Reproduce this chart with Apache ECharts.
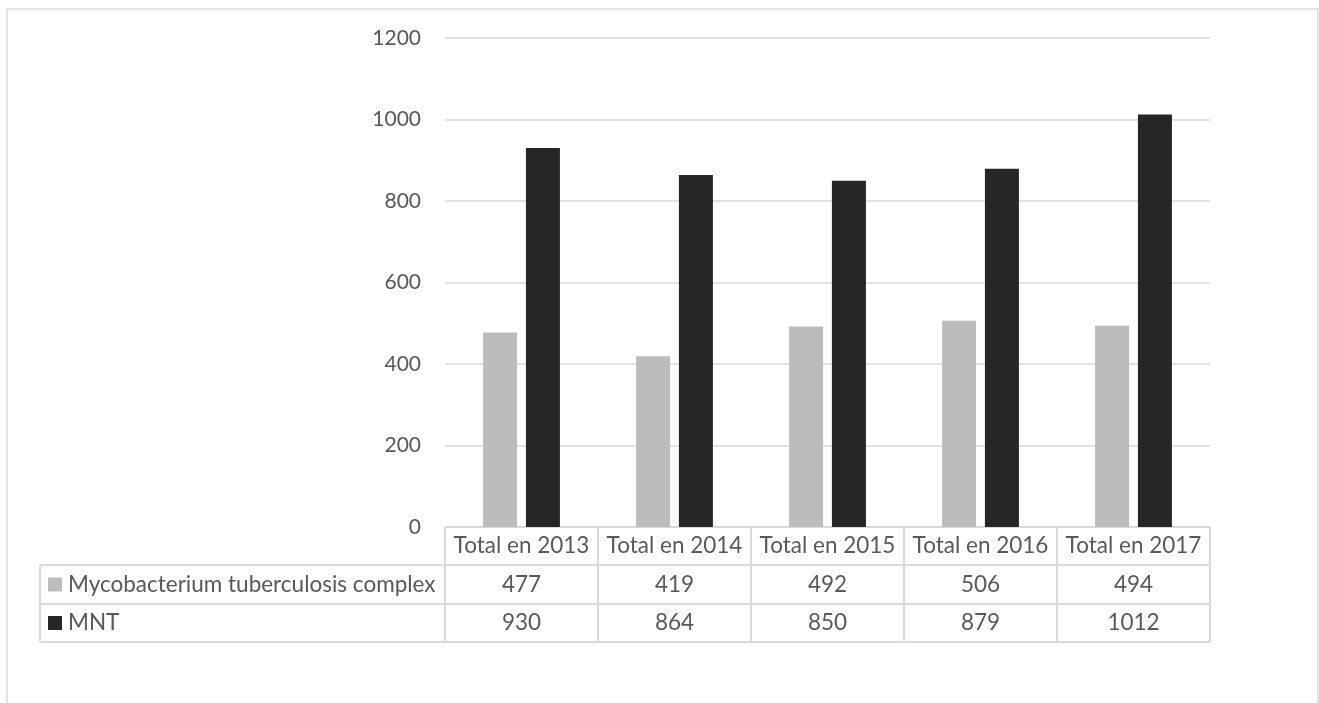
<!DOCTYPE html>
<html>
<head>
<meta charset="utf-8">
<script src="https://cdn.jsdelivr.net/npm/echarts@6/dist/echarts.min.js"></script>
<style>
html, body { margin: 0; padding: 0; background: #fff; }
#main { width: 1319px; height: 703px; }
</style>
</head>
<body>
<div id="main"></div>
<script>
var categories = ['Total en 2013', 'Total en 2014', 'Total en 2015', 'Total en 2016', 'Total en 2017'];
var seriesNames = ['Mycobacterium tuberculosis complex', 'MNT'];
var mtbValues = [477, 419, 492, 506, 494];
var mntValues = [930, 864, 850, 879, 1012];
var seriesColors = ['#bcbcbc', '#262626'];

var textColor = '#595959';
var lineColor = '#d9d9d9';
var fontFamily = 'Lato, "Liberation Sans", sans-serif';
var fontSize = 22.5;

var myChart = echarts.init(document.getElementById('main'));

var option = {
	animation : false,
	grid : {
		left : 445,
		right : 109,
		top : 38,
		bottom : 176
	},
	xAxis : {
		type : 'category',
		data : categories,
		axisLine : { show : false },
		axisTick : { show : false },
		axisLabel : { show : false }
	},
	yAxis : {
		type : 'value',
		min : 0,
		max : 1200,
		interval : 200,
		axisLabel : {
			color : textColor,
			fontSize : 21,
			fontFamily : fontFamily,
			margin : 24,
			formatter : function (v) { return String(v); }
		},
		splitLine : {
			lineStyle : { color : lineColor, width : 1.5 }
		}
	},
	series : [ {
		name : seriesNames[0],
		type : 'bar',
		data : mtbValues,
		barWidth : 34,
		barGap : '26%',
		itemStyle : { color : seriesColors[0] }
	}, {
		name : seriesNames[1],
		type : 'bar',
		data : mntValues,
		barWidth : 34,
		itemStyle : { color : seriesColors[1] }
	} ]
};
myChart.setOption(option);

// data table under the plot
function buildTable() {
	var g = [];
	var left = 445, right = 1210, tableLeft = 40;
	var colW = (right - left) / categories.length;
	var rowY = [527, 565, 604, 642];
	var lineStyle = { stroke : lineColor, lineWidth : 2 };
	var font = fontSize + 'px ' + fontFamily;

	// outer frame
	g.push({ type : 'rect', shape : { x : 7, y : 9, width : 1311, height : 710 },
		style : { fill : null, stroke : '#dcdcdc', lineWidth : 1.5 }, silent : true });

	// horizontal lines
	g.push({ type : 'line', shape : { x1 : left, y1 : rowY[0], x2 : right, y2 : rowY[0] }, style : lineStyle });
	for (var r = 1; r < rowY.length; r++) {
		g.push({ type : 'line', shape : { x1 : tableLeft, y1 : rowY[r], x2 : right, y2 : rowY[r] }, style : lineStyle });
	}
	// vertical lines
	g.push({ type : 'line', shape : { x1 : tableLeft, y1 : rowY[1], x2 : tableLeft, y2 : rowY[3] }, style : lineStyle });
	for (var c = 0; c <= categories.length; c++) {
		var x = left + c * colW;
		g.push({ type : 'line', shape : { x1 : x, y1 : rowY[0], x2 : x, y2 : rowY[3] }, style : lineStyle });
	}

	var rows = [categories, mtbValues, mntValues];
	for (var i = 0; i < categories.length; i++) {
		var cx = myChart.convertToPixel({ xAxisIndex : 0 }, i);
		for (var k = 0; k < rows.length; k++) {
			g.push({ type : 'text', x : cx, y : (rowY[k] + rowY[k + 1]) / 2,
				style : { text : String(rows[k][i]), fill : textColor, font : font,
					align : 'center', verticalAlign : 'middle' } });
		}
	}

	// legend keys + names in the first column
	for (var s = 0; s < seriesNames.length; s++) {
		var cy = (rowY[s + 1] + rowY[s + 2]) / 2;
		g.push({ type : 'rect', shape : { x : 48, y : cy - 7, width : 14, height : 14 },
			style : { fill : seriesColors[s] } });
		g.push({ type : 'text', x : 68, y : cy,
			style : { text : seriesNames[s], fill : textColor, font : font,
				align : 'left', verticalAlign : 'middle' } });
	}
	return g;
}

myChart.setOption({ graphic : buildTable() });
</script>
</body>
</html>
